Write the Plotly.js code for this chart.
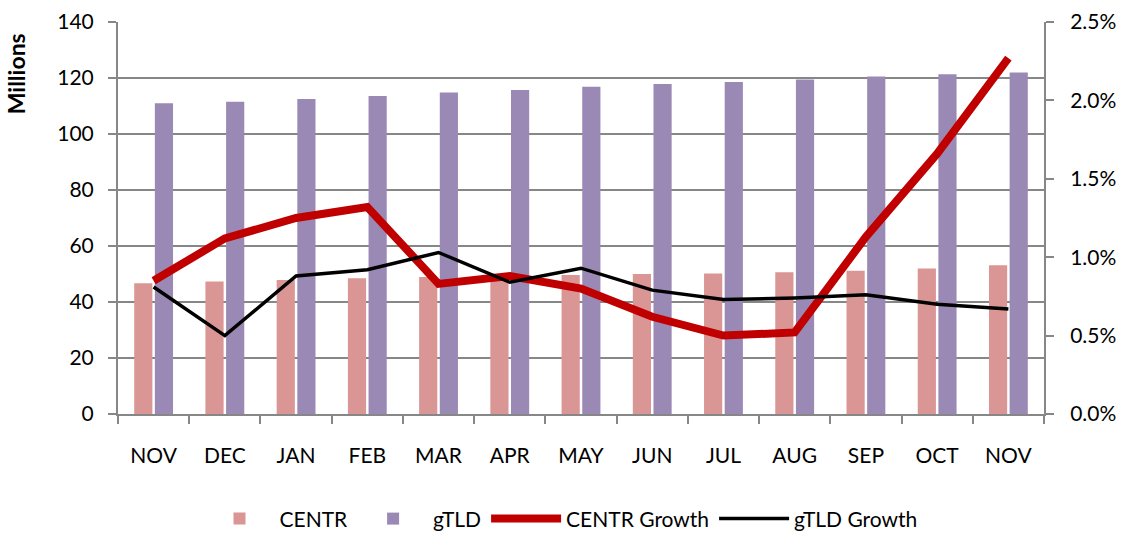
<!DOCTYPE html>
<html>
<head>
<meta charset="utf-8">
<script src="https://cdn.plot.ly/plotly-3.0.1.min.js"></script>
<style>html,body{margin:0;padding:0;background:#fff;}#chart{width:1122px;height:535px;}</style>
</head>
<body>
<div id="chart"></div>
<script>
// ---- data ----
var periods = ['Nov 2012','Dec 2012','Jan 2013','Feb 2013','Mar 2013','Apr 2013','May 2013','Jun 2013','Jul 2013','Aug 2013','Sep 2013','Oct 2013','Nov 2013'];
var monthLabels = ['NOV','DEC','JAN','FEB','MAR','APR','MAY','JUN','JUL','AUG','SEP','OCT','NOV'];
var centr = [46.7, 47.3, 47.9, 48.5, 48.9, 49.4, 49.6, 50.0, 50.2, 50.6, 51.2, 52.0, 53.1];
var gtld = [111.0, 111.5, 112.5, 113.6, 114.8, 115.7, 116.9, 117.9, 118.6, 119.5, 120.5, 121.3, 122.0];
var centrGrowth = [0.0085, 0.0112, 0.0125, 0.0132, 0.0083, 0.0088, 0.0080, 0.0062, 0.0050, 0.0052, 0.0113, 0.0166, 0.0227];
var gtldGrowth = [0.0081, 0.0050, 0.0088, 0.0092, 0.0103, 0.0084, 0.0093, 0.0079, 0.0073, 0.0074, 0.0076, 0.0070, 0.0067];

var FONT = 'Lato, "Open Sans", sans-serif';
var GRID = '#878787';

var traces = [
  {type:'bar', name:'CENTR', x:periods, y:centr, marker:{color:'#D99694'}, yaxis:'y'},
  {type:'bar', name:'gTLD', x:periods, y:gtld, marker:{color:'#9B89B5'}, yaxis:'y'},
  {type:'scatter', mode:'lines', name:'CENTR Growth', x:periods, y:centrGrowth, yaxis:'y2',
   line:{color:'#C00000', width:8}},
  {type:'scatter', mode:'lines', name:'gTLD Growth', x:periods, y:gtldGrowth, yaxis:'y2',
   line:{color:'#000000', width:3.5}}
];

var layout = {
  width:1122, height:535,
  margin:{l:118, r:78, t:22, b:121},
  paper_bgcolor:'#fff', plot_bgcolor:'#fff',
  font:{family:FONT, size:21, color:'#000'},
  barmode:'group', bargap:0.42, bargroupgap:0.12,
  showlegend:true,
  legend:{orientation:'h', x:0.5, xanchor:'center', xref:'container', y:0.03, yref:'container', yanchor:'middle',
          font:{family:FONT, size:21}, itemwidth:70, tracegroupgap:0, traceorder:'normal'},
  xaxis:{type:'category', tickmode:'array', tickvals:periods, ticktext:monthLabels,
         tickson:'boundaries', ticks:'outside', ticklen:8, tickcolor:GRID, tickwidth:2,
         showline:true, linecolor:GRID, linewidth:2, showgrid:false, ticklabelstandoff:22,
         zeroline:false},
  yaxis:{range:[0,140], dtick:20, tickmode:'linear', ticks:'outside', ticklen:8, tickcolor:GRID, tickwidth:2,
         showline:true, linecolor:GRID, linewidth:2, showgrid:true, gridcolor:GRID, gridwidth:2,
         zeroline:false, ticklabelstandoff:10},
  yaxis2:{overlaying:'y', side:'right', range:[0,0.025], dtick:0.005, tickmode:'linear', tickformat:'.1%',
          ticks:'outside', ticklen:8, tickcolor:GRID, tickwidth:2, showline:true, linecolor:GRID, linewidth:2,
          showgrid:false, zeroline:false, ticklabelstandoff:12},
  annotations:[{text:'<b>Millions</b>', xref:'paper', yref:'paper', x:-0.11, y:0.867, textangle:-90,
                showarrow:false, font:{family:FONT, size:23, color:'#000'}, xanchor:'center', yanchor:'middle'}]
};

Plotly.newPlot('chart', traces, layout, {displayModeBar:false, staticPlot:true});
</script>
</body>
</html>
